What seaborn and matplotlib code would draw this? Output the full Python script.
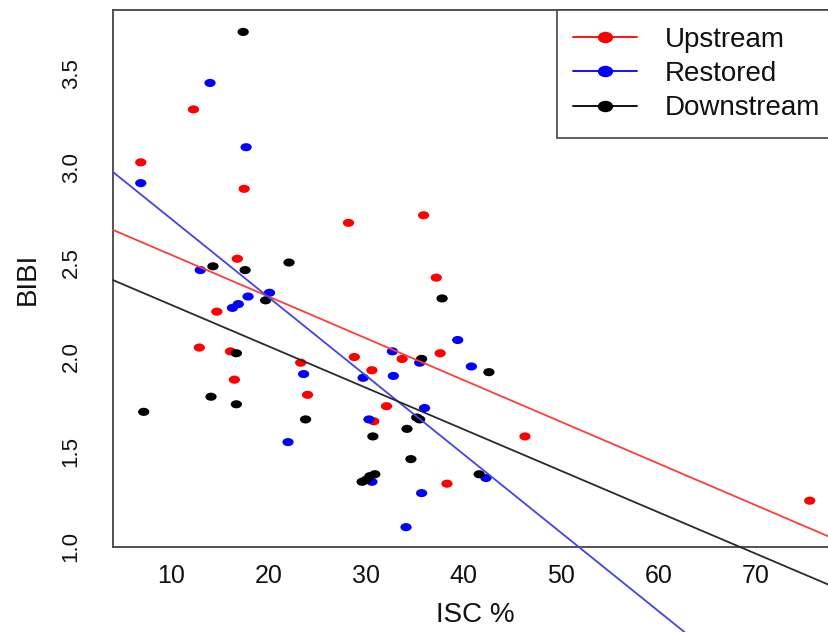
import numpy as np
import pandas as pd
import matplotlib
matplotlib.use("Agg")
import matplotlib.pyplot as plt
from matplotlib.path import Path
from matplotlib.lines import Line2D
import seaborn as sns

# ---- data ----
groups = ["Upstream", "Restored", "Downstream"]
colors = ["#ff0000", "#0000ff", "#000000"]
line_colors = ["#ff3b3b", "#4343e6", "#2a2a2a"]

up_x = [6.9, 12.3, 17.5, 28.2, 16.8, 14.7, 12.9, 16.1, 16.5, 23.3, 24.0, 28.8,
        30.6, 32.1, 30.8, 33.7, 35.9, 37.2, 37.6, 46.3, 38.3, 75.5]
up_y = [3.03, 3.31, 2.89, 2.71, 2.52, 2.24, 2.05, 2.03, 1.88, 1.97, 1.80, 2.00,
        1.93, 1.74, 1.66, 1.99, 2.75, 2.42, 2.02, 1.58, 1.33, 1.24]

rs_x = [6.9, 14.0, 17.7, 13.0, 16.3, 16.9, 17.9, 20.1, 23.6, 22.0, 29.7, 32.7,
        32.8, 30.3, 30.6, 39.4, 40.8, 35.5, 36.0, 35.7, 34.1, 42.3]
rs_y = [2.92, 3.45, 3.11, 2.46, 2.26, 2.28, 2.32, 2.34, 1.91, 1.55, 1.89, 2.03,
        1.90, 1.67, 1.34, 2.09, 1.95, 1.97, 1.73, 1.28, 1.10, 1.36]

dn_x = [17.4, 14.3, 17.6, 22.1, 19.7, 16.7, 7.2, 14.1, 16.7, 23.8, 30.7, 29.6,
        30.0, 30.4, 30.9, 37.8, 35.7, 42.6, 35.2, 35.5, 34.2, 34.6, 41.6]
dn_y = [3.72, 2.48, 2.46, 2.50, 2.30, 2.02, 1.71, 1.79, 1.75, 1.67, 1.58, 1.34,
        1.35, 1.37, 1.38, 2.31, 1.99, 1.92, 1.68, 1.67, 1.62, 1.46, 1.38]

# fitted regression lines (intercept, slope) as drawn in the reference
intercepts = [2.762, 3.147, 2.496]
slopes = [-0.0221, -0.04153, -0.02196]

x_ticks = [10, 20, 30, 40, 50, 60, 70]
y_ticks = [1.0, 1.5, 2.0, 2.5, 3.0, 3.5]
y_tick_labels = ["1.0", "1.5", "2.0", "2.5", "3.0", "3.5"]

# ---- build dataframe ----
df = pd.concat([
    pd.DataFrame({"ISC": up_x, "BIBI": up_y, "Site": groups[0]}),
    pd.DataFrame({"ISC": rs_x, "BIBI": rs_y, "Site": groups[1]}),
    pd.DataFrame({"ISC": dn_x, "BIBI": dn_y, "Site": groups[2]}),
], ignore_index=True)

sns.set_theme(style="white")
plt.rcParams["font.family"] = ["Liberation Sans", "DejaVu Sans"]

# slightly flattened dot marker (reference is horizontally stretched)
circ = Path.unit_circle()
ell = Path(circ.vertices * np.array([1.0, 0.72]), circ.codes)

fig = plt.figure(figsize=(8.29, 6.32), dpi=100)
ax = fig.add_axes([0.1363, 0.1345, 0.8734, 0.8497])

sns.scatterplot(data=df, x="ISC", y="BIBI", hue="Site", hue_order=groups,
                palette=colors, marker=ell, s=66, linewidth=0, ax=ax,
                legend=False, zorder=3)

xlim = (4.05, 78.3)
ylim = (0.995, 3.836)
ax.set_xlim(*xlim)
ax.set_ylim(*ylim)

xs = np.array([xlim[0], 100.0])
for b0, b1, c in zip(intercepts, slopes, line_colors):
    ax.plot(xs, b0 + b1 * xs, color=c, lw=1.3, clip_on=False, zorder=4)

ax.set_xticks(x_ticks)
ax.set_xticklabels([str(t) for t in x_ticks])
ax.set_yticks(y_ticks)
ax.set_yticklabels(y_tick_labels, rotation=90, va="center")

ax.tick_params(axis="both", direction="out", length=7.5, width=1.1,
               color="#444444", labelcolor="#111111")
ax.tick_params(axis="x", pad=5, labelsize=18)
ax.tick_params(axis="y", pad=15, labelsize=16)

for side in ["left", "bottom", "top", "right"]:
    ax.spines[side].set_color("#444444")
    ax.spines[side].set_linewidth(1.3)

ax.set_xlabel("ISC %", fontsize=20, color="#111111")
ax.set_ylabel("BIBI", fontsize=20, color="#111111")
ax.xaxis.set_label_coords(0.5, -0.102)
ax.yaxis.set_label_coords(-0.10, 0.5)

handles = [Line2D([0], [0], color=c, lw=1.3, marker=ell, markersize=10,
                  markerfacecolor=c, markeredgecolor=c)
           for c in colors]
leg = ax.legend(handles, groups, loc="upper right", bbox_to_anchor=(1, 1),
                borderaxespad=0, fancybox=False, fontsize=20, frameon=True,
                handlelength=2.3, handletextpad=1.0, borderpad=0.6,
                labelspacing=0.3, framealpha=1)
leg.get_frame().set_edgecolor("#444444")
leg.get_frame().set_linewidth(1.2)
for t in leg.get_texts():
    t.set_color("#111111")

fig.savefig("out.png", dpi=100)
